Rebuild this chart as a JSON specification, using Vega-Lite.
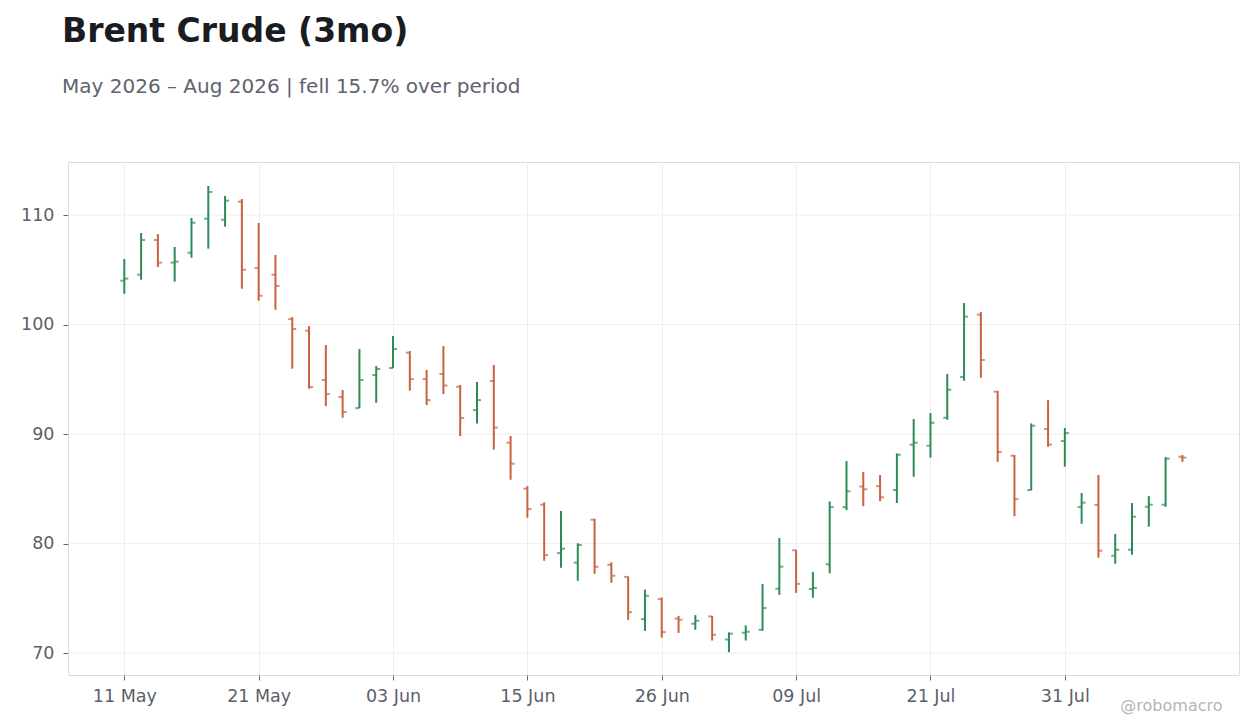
{
  "$schema": "https://vega.github.io/schema/vega-lite/v6.json",
  "description": "Brent crude OHLC bars over three months of trading days.",
  "width": 1171,
  "height": 513,
  "autosize": {"type": "none"},
  "padding": {"left": 68, "top": 162, "right": 21, "bottom": 53},
  "background": "#ffffff",
  "title": {
    "text": "Brent Crude (3mo)",
    "subtitle": "May 2026 – Aug 2026 | fell 15.7% over period",
    "anchor": "start",
    "frame": "group",
    "dx": -6,
    "offset": 65,
    "font": "DejaVu Sans",
    "fontSize": 33,
    "fontWeight": "bold",
    "color": "#1b1b22",
    "subtitleFont": "DejaVu Sans",
    "subtitleFontSize": 20,
    "subtitleColor": "#60626e",
    "subtitlePadding": 28
  },
  "data": {
    "values": [
      {"date": "2026-05-11", "open": 104.0, "high": 105.98, "low": 102.82, "close": 104.19},
      {"date": "2026-05-12", "open": 104.55, "high": 108.36, "low": 104.09, "close": 107.72},
      {"date": "2026-05-13", "open": 107.72, "high": 108.26, "low": 105.25, "close": 105.65},
      {"date": "2026-05-14", "open": 105.65, "high": 107.08, "low": 103.91, "close": 105.74},
      {"date": "2026-05-15", "open": 106.56, "high": 109.73, "low": 106.1, "close": 109.3},
      {"date": "2026-05-18", "open": 109.66, "high": 112.65, "low": 106.93, "close": 112.1},
      {"date": "2026-05-19", "open": 109.57, "high": 111.74, "low": 108.93, "close": 111.31},
      {"date": "2026-05-20", "open": 111.22, "high": 111.46, "low": 103.27, "close": 105.0},
      {"date": "2026-05-21", "open": 105.16, "high": 109.27, "low": 102.18, "close": 102.63},
      {"date": "2026-05-22", "open": 104.55, "high": 106.35, "low": 101.35, "close": 103.52},
      {"date": "2026-05-26", "open": 100.5, "high": 100.68, "low": 95.97, "close": 99.59},
      {"date": "2026-05-27", "open": 99.44, "high": 99.86, "low": 94.14, "close": 94.29},
      {"date": "2026-05-28", "open": 94.93, "high": 98.13, "low": 92.56, "close": 93.65},
      {"date": "2026-05-29", "open": 93.38, "high": 94.02, "low": 91.49, "close": 92.01},
      {"date": "2026-06-01", "open": 92.37, "high": 97.76, "low": 92.37, "close": 94.93},
      {"date": "2026-06-02", "open": 95.39, "high": 96.21, "low": 92.86, "close": 95.94},
      {"date": "2026-06-03", "open": 96.03, "high": 98.95, "low": 96.03, "close": 97.76},
      {"date": "2026-06-04", "open": 97.43, "high": 97.58, "low": 93.96, "close": 95.02},
      {"date": "2026-06-05", "open": 95.02, "high": 95.85, "low": 92.65, "close": 93.1},
      {"date": "2026-06-08", "open": 95.48, "high": 98.04, "low": 93.65, "close": 94.43},
      {"date": "2026-06-09", "open": 94.32, "high": 94.47, "low": 89.81, "close": 91.46},
      {"date": "2026-06-10", "open": 92.19, "high": 94.75, "low": 90.96, "close": 93.1},
      {"date": "2026-06-11", "open": 94.84, "high": 96.3, "low": 88.58, "close": 90.59},
      {"date": "2026-06-12", "open": 89.21, "high": 89.82, "low": 85.83, "close": 87.29},
      {"date": "2026-06-15", "open": 85.01, "high": 85.25, "low": 82.36, "close": 83.15},
      {"date": "2026-06-16", "open": 83.55, "high": 83.76, "low": 78.43, "close": 78.95},
      {"date": "2026-06-17", "open": 79.13, "high": 82.97, "low": 77.79, "close": 79.53},
      {"date": "2026-06-18", "open": 78.26, "high": 80.03, "low": 76.6, "close": 79.87},
      {"date": "2026-06-22", "open": 82.18, "high": 82.26, "low": 77.24, "close": 77.88},
      {"date": "2026-06-23", "open": 78.06, "high": 78.28, "low": 76.42, "close": 77.06},
      {"date": "2026-06-24", "open": 76.96, "high": 76.99, "low": 73.03, "close": 73.74},
      {"date": "2026-06-25", "open": 73.1, "high": 75.8, "low": 72.03, "close": 75.23},
      {"date": "2026-06-26", "open": 74.93, "high": 75.08, "low": 71.4, "close": 71.92},
      {"date": "2026-06-29", "open": 73.15, "high": 73.4, "low": 71.84, "close": 73.05},
      {"date": "2026-06-30", "open": 72.68, "high": 73.47, "low": 72.13, "close": 72.95},
      {"date": "2026-07-01", "open": 73.35, "high": 73.38, "low": 71.15, "close": 71.67},
      {"date": "2026-07-02", "open": 71.24, "high": 71.89, "low": 70.08, "close": 71.77},
      {"date": "2026-07-06", "open": 71.86, "high": 72.53, "low": 71.15, "close": 71.95},
      {"date": "2026-07-07", "open": 72.13, "high": 76.3, "low": 72.04, "close": 74.11},
      {"date": "2026-07-08", "open": 75.87, "high": 80.5, "low": 75.32, "close": 77.89},
      {"date": "2026-07-09", "open": 79.39, "high": 79.42, "low": 75.5, "close": 76.32},
      {"date": "2026-07-10", "open": 75.85, "high": 77.4, "low": 75.05, "close": 75.95},
      {"date": "2026-07-13", "open": 78.11, "high": 83.84, "low": 77.29, "close": 83.32},
      {"date": "2026-07-14", "open": 83.32, "high": 87.53, "low": 83.05, "close": 84.78},
      {"date": "2026-07-15", "open": 85.21, "high": 86.53, "low": 83.41, "close": 84.96},
      {"date": "2026-07-16", "open": 85.24, "high": 86.26, "low": 83.87, "close": 84.23},
      {"date": "2026-07-17", "open": 84.89, "high": 88.23, "low": 83.7, "close": 88.11},
      {"date": "2026-07-20", "open": 89.03, "high": 91.37, "low": 86.1, "close": 89.21},
      {"date": "2026-07-21", "open": 88.93, "high": 91.92, "low": 87.84, "close": 91.03},
      {"date": "2026-07-22", "open": 91.49, "high": 95.48, "low": 91.31, "close": 94.05},
      {"date": "2026-07-23", "open": 95.21, "high": 101.96, "low": 94.87, "close": 100.72},
      {"date": "2026-07-24", "open": 100.9, "high": 101.14, "low": 95.14, "close": 96.76},
      {"date": "2026-07-27", "open": 93.87, "high": 93.93, "low": 87.47, "close": 88.36},
      {"date": "2026-07-28", "open": 88.02, "high": 88.08, "low": 82.5, "close": 84.06},
      {"date": "2026-07-29", "open": 84.89, "high": 90.97, "low": 84.86, "close": 90.76},
      {"date": "2026-07-30", "open": 90.46, "high": 93.1, "low": 88.84, "close": 89.03},
      {"date": "2026-07-31", "open": 89.36, "high": 90.55, "low": 87.02, "close": 90.09},
      {"date": "2026-08-03", "open": 83.33, "high": 84.61, "low": 81.81, "close": 83.73},
      {"date": "2026-08-04", "open": 83.52, "high": 86.26, "low": 78.71, "close": 79.35},
      {"date": "2026-08-05", "open": 78.89, "high": 80.87, "low": 78.16, "close": 79.44},
      {"date": "2026-08-06", "open": 79.44, "high": 83.7, "low": 78.98, "close": 82.45},
      {"date": "2026-08-07", "open": 83.36, "high": 84.34, "low": 81.54, "close": 83.55},
      {"date": "2026-08-10", "open": 83.55, "high": 87.9, "low": 83.36, "close": 87.75},
      {"date": "2026-08-11", "open": 87.93, "high": 88.08, "low": 87.47, "close": 87.85}
    ]
  },
  "layer": [
    {
      "data": {"values": [{"level": 70}, {"level": 80}, {"level": 90}, {"level": 100}, {"level": 110}]},
      "mark": {"type": "rule", "color": "#eeeeee", "strokeWidth": 1},
      "encoding": {
        "y": {
          "field": "level",
          "type": "quantitative",
          "scale": {"domain": [68, 114.84], "nice": false, "zero": false},
          "axis": {"values": [70, 80, 90, 100, 110], "title": null, "grid": false}
        }
      }
    },
    {
      "encoding": {
        "x": {
          "field": "date",
          "type": "ordinal",
          "sort": "ascending",
          "scale": {"type": "point", "padding": 0, "range": [56.3, 1114.4]},
          "axis": {
            "values": ["2026-05-11", "2026-05-21", "2026-06-03", "2026-06-15", "2026-06-26", "2026-07-09", "2026-07-21", "2026-07-31"],
            "labelExpr": "utcFormat(toDate(datum.value), '%d %b')",
            "labelAngle": 0,
            "title": "@robomacro",
            "titleFont": "DejaVu Sans",
            "titleFontSize": 16,
            "titleFontWeight": "normal",
            "titleColor": "#b4b4bc",
            "titleAnchor": null,
            "titleAlign": "right",
            "titleBaseline": "alphabetic",
            "titleX": 1154,
            "titleY": 35
          }
        },
        "color": {
          "condition": {"test": "datum.close >= datum.open", "value": "#2e8b57"},
          "value": "#c8623e"
        }
      },
      "layer": [
        {
          "mark": {"type": "rule", "strokeWidth": 2},
          "encoding": {
            "y": {"field": "low", "type": "quantitative"},
            "y2": {"field": "high"}
          }
        },
        {
          "mark": {"type": "tick", "orient": "horizontal", "size": 4, "thickness": 2, "xOffset": -2},
          "encoding": {"y": {"field": "open", "type": "quantitative"}}
        },
        {
          "mark": {"type": "tick", "orient": "horizontal", "size": 4, "thickness": 2, "xOffset": 2},
          "encoding": {"y": {"field": "close", "type": "quantitative"}}
        }
      ]
    }
  ],
  "config": {
    "view": {"stroke": "#dcdcdc", "strokeWidth": 1},
    "axis": {
      "labelFont": "DejaVu Sans",
      "labelFontSize": 17.5,
      "labelColor": "#5c5f6b",
      "domain": false,
      "grid": true,
      "gridColor": "#eeeeee",
      "gridWidth": 1,
      "tickColor": "#666666",
      "tickSize": 5
    },
    "axisX": {"labelPadding": 7},
    "axisY": {"labelPadding": 9, "grid": false}
  }
}
